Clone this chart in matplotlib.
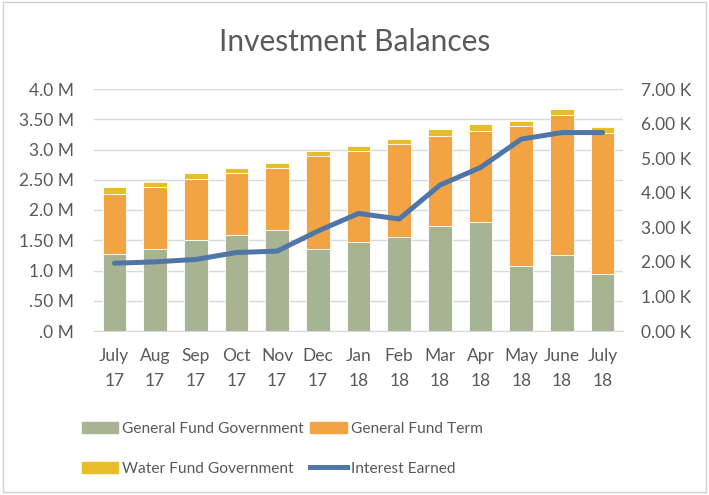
import numpy as np
import matplotlib.pyplot as plt
from matplotlib.patches import Rectangle, Patch
from matplotlib.lines import Line2D

plt.rcParams['font.family'] = ['Lato', 'DejaVu Sans']

months = ['July\n17', 'Aug\n17', 'Sep\n17', 'Oct\n17', 'Nov\n17', 'Dec\n17', 'Jan\n18',
          'Feb\n18', 'Mar\n18', 'Apr\n18', 'May\n18', 'June\n18', 'July\n18']

# balances in millions
gen_gov = [1.28, 1.355, 1.50, 1.587, 1.675, 1.355, 1.476, 1.559, 1.73, 1.807, 1.08, 1.25, 0.937]
gen_term = [0.98, 1.02, 1.02, 1.02, 1.015, 1.535, 1.50, 1.527, 1.50, 1.503, 2.31, 2.315, 2.343]
water_gov = [0.115, 0.085, 0.09, 0.083, 0.08, 0.085, 0.083, 0.084, 0.11, 0.11, 0.086, 0.11, 0.087]
# interest earned in thousands
interest = [1.96, 2.00, 2.07, 2.27, 2.31, 2.89, 3.40, 3.24, 4.22, 4.73, 5.55, 5.74, 5.74]

left_ticks = ['.0 M', '.50 M', '1.0 M', '1.50 M', '2.0 M', '2.50 M', '3.0 M', '3.50 M', '4.0 M']
right_ticks = ['0.00 K', '1.00 K', '2.00 K', '3.00 K', '4.00 K', '5.00 K', '6.00 K', '7.00 K']

c_green = '#A6B493'
c_orange = '#F2A343'
c_yellow = '#E8BD2A'
c_blue = '#4F76A6'
c_text = '#595959'
c_grid = '#D9D9D9'

fig = plt.figure(figsize=(7.09, 4.95), dpi=100)
fig.patches.append(Rectangle((0.004, 0.006), 0.992, 0.99, transform=fig.transFigure,
                             fill=False, edgecolor='#D0D0D0', linewidth=1))

ax = fig.add_axes([94/709, 1 - 331/495, 529/709, 242/495])
x = np.arange(len(months))
g = np.array(gen_gov)
t = np.array(gen_term)
w = np.array(water_gov)
bw = 0.58
ax.bar(x, g, bw, color=c_green, edgecolor='white', linewidth=0.6, zorder=2)
ax.bar(x, t, bw, bottom=g, color=c_orange, edgecolor='white', linewidth=0.6, zorder=2)
ax.bar(x, w, bw, bottom=g + t, color=c_yellow, edgecolor='white', linewidth=0.6, zorder=2)

ax.set_xlim(-0.5, len(months) - 0.5)
ax.set_ylim(0, 4.0)
ax.set_yticks(np.arange(0, 4.01, 0.5))
ax.set_yticklabels(left_ticks)
ax.set_xticks(x)
ax.set_xticklabels(months, linespacing=1.72)
ax.grid(axis='y', color=c_grid, linewidth=1, zorder=0)
ax.set_axisbelow(True)
for s in ['top', 'left', 'right']:
    ax.spines[s].set_visible(False)
ax.spines['bottom'].set_color(c_grid)
ax.tick_params(length=0, labelsize=12.5, labelcolor=c_text)
ax.tick_params(axis='x', pad=12)
ax.tick_params(axis='y', pad=14.4)

ax2 = ax.twinx()
ax2.plot(x, interest, color=c_blue, linewidth=3.6, solid_capstyle='round', zorder=3)
ax2.set_ylim(0, 7.0)
ax2.set_yticks(np.arange(0, 7.01, 1.0))
ax2.set_yticklabels(right_ticks)
for s in ['top', 'left', 'right', 'bottom']:
    ax2.spines[s].set_visible(False)
ax2.tick_params(length=0, labelsize=12.5, labelcolor=c_text, pad=13)

fig.text(0.5, 1 - 42/495, 'Investment Balances', ha='center', va='center',
         fontsize=21.5, color=c_text)

handles = [Patch(color=c_green), Patch(color=c_yellow), Patch(color=c_orange),
           Line2D([0], [0], color=c_blue, linewidth=3.6)]
labels = ['General Fund Government', 'Water Fund Government', 'General Fund Term', 'Interest Earned']
leg = fig.legend(handles, labels, ncol=2, loc='upper left', bbox_to_anchor=(74/709, 1 - 414/495),
                 frameon=False, fontsize=11.2, handlelength=2.35, handleheight=0.75,
                 handletextpad=0.25, columnspacing=0.4, labelspacing=1.65, borderpad=0)
for txt in leg.get_texts():
    txt.set_color(c_text)

fig.savefig('out.png', dpi=100)
